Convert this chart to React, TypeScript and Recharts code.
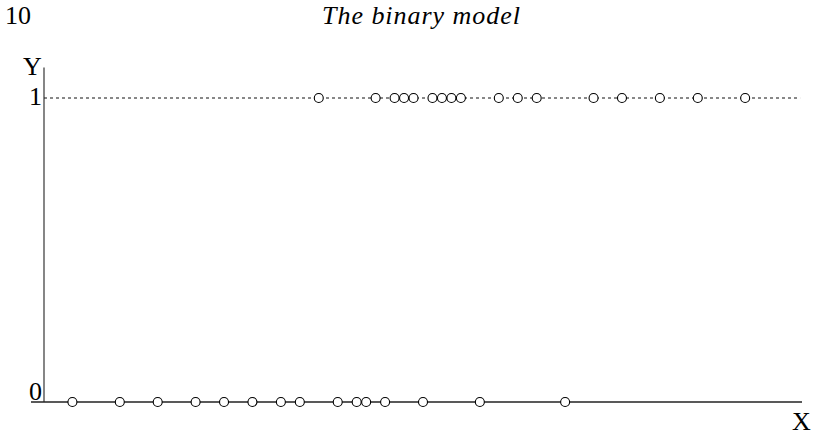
import React from "react";
import {
  ScatterChart,
  Scatter,
  XAxis,
  YAxis,
  ReferenceLine,
} from "recharts";

// x positions of the observations, in grid units along the X axis
const zerosX = [3, 8, 12, 16, 19, 22, 25, 27, 31, 33, 34, 36, 40, 46, 55];
const onesX = [29, 35, 37, 38, 39, 41, 42, 43, 44, 48, 50, 52, 58, 61, 65, 69, 74];
const yTicks = [0, 1];
const pageNumber = "10";
const runningTitle = "The binary model";

const zeros = zerosX.map((x) => ({ x, y: 0 }));
const ones = onesX.map((x) => ({ x, y: 1 }));

const FONT = "'Liberation Serif', 'DejaVu Serif', serif";

const Dot = (props: any) => (
  <circle cx={props.cx} cy={props.cy} r={4.5} fill="#fff" stroke="#000" strokeWidth={1.1} />
);

const YTick = (props: any) => {
  const { y, payload } = props;
  const dy = payload.value === 0 ? -2 : 7;
  return (
    <text x={42} y={y + dy} textAnchor="end" fontFamily={FONT} fontSize={26} fill="#000">
      {payload.value}
    </text>
  );
};

export default function App() {
  return (
    <div style={{ position: "absolute", left: 0, top: 0, width: 815, height: 435, background: "#fff" }}>
      <ScatterChart
        width={815}
        height={435}
        margin={{ top: 67.6, right: 13, bottom: 33, left: 43 }}
      >
        <XAxis type="number" dataKey="x" domain={[0, 80]} hide />
        <YAxis
          type="number"
          dataKey="y"
          domain={[0, 1.1]}
          ticks={yTicks}
          width={1}
          tickLine={false}
          axisLine={{ stroke: "#222", strokeWidth: 1.1 }}
          tick={<YTick />}
          interval={0}
        />
        <ReferenceLine
          segment={[{ x: -1.372, y: 0 }, { x: 80, y: 0 }]}
          stroke="#222"
          strokeWidth={1.3}
          ifOverflow="visible"
        />
        <ReferenceLine
          segment={[{ x: 0, y: 1 }, { x: 79.8, y: 1 }]}
          stroke="#111"
          strokeWidth={1}
          strokeDasharray="3 3"
          ifOverflow="visible"
        />
        <Scatter data={zeros} shape={<Dot />} isAnimationActive={false} />
        <Scatter data={ones} shape={<Dot />} isAnimationActive={false} />
      </ScatterChart>
      <svg
        width={815}
        height={435}
        style={{ position: "absolute", left: 0, top: 0, pointerEvents: "none" }}
      >
        <text x={5} y={24} fontFamily={FONT} fontSize={26} fill="#000">
          {pageNumber}
        </text>
        <text
          x={322}
          y={24}
          textLength={198}
          lengthAdjust="spacing"
          fontFamily={FONT}
          fontStyle="italic"
          fontSize={26}
          fill="#000"
        >
          {runningTitle}
        </text>
        <text x={32.5} y={75} textAnchor="middle" fontFamily={FONT} fontSize={26} fill="#000">
          Y
        </text>
        <text x={801.5} y={430} textAnchor="middle" fontFamily={FONT} fontSize={26} fill="#000">
          X
        </text>
      </svg>
    </div>
  );
}
